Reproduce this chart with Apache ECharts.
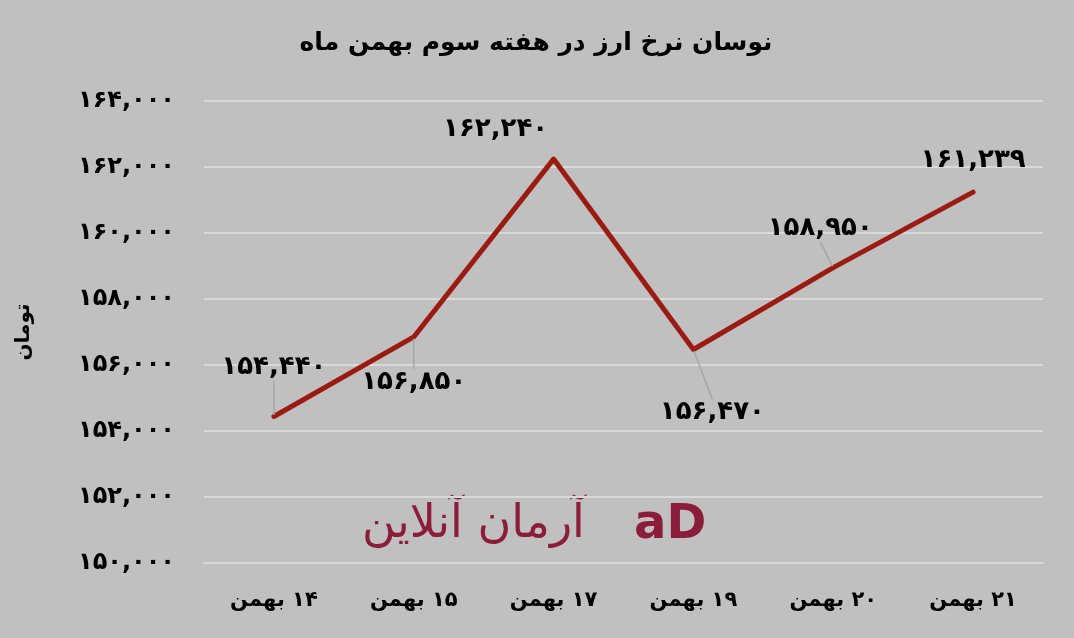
<!DOCTYPE html>
<html>
<head>
<meta charset="utf-8">
<script src="https://cdn.jsdelivr.net/npm/echarts@6/dist/echarts.min.js"></script>
<style>
html,body{margin:0;padding:0;background:#c0c0c0;}
#chart{width:1074px;height:638px;direction:rtl;}
</style>
</head>
<body>
<div id="chart"></div>
<script>
// ---- data ----
const titleText = 'نوسان نرخ ارز در هفته سوم بهمن ماه';
const yAxisName = 'تومان';
const categories = ['۱۴ بهمن', '۱۵ بهمن', '۱۷ بهمن', '۱۹ بهمن', '۲۰ بهمن', '۲۱ بهمن'];
const rates = [154440, 156850, 162240, 156470, 158950, 161239];
const yMin = 150000, yMax = 164000, yStep = 2000;
const watermarkText = 'آرمان آنلاین';

// ---- label placement (style, kept separate from data) ----
const labelShift = [[0, -49], [0, 45], [-58, -30], [19, 63], [-13, -39], [0, -32]];
const showLeader = [true, true, false, true, true, false];

const faDigits = '۰۱۲۳۴۵۶۷۸۹';
function toFa(s) { return String(s).replace(/[0-9]/g, d => faDigits[+d]); }
function fmt(v) { return toFa(Number(v).toLocaleString('en-US')); }

const FONT = '"DejaVu Sans", sans-serif';
const chart = echarts.init(document.getElementById('chart'));

const seriesData = rates.map((v, i) => ({
  value: v,
  labelLine: { show: showLeader[i] }
}));

chart.setOption({
  backgroundColor: '#c0c0c0',
  animation: false,
  title: {
    text: titleText,
    left: 531, top: 26, textAlign: 'center',
    textStyle: { fontFamily: FONT, fontWeight: 'bold', fontSize: 25, color: '#000' }
  },
  grid: { left: 204, right: 31, top: 101, bottom: 75 },
  xAxis: {
    type: 'category',
    data: categories,
    boundaryGap: true,
    axisLine: { lineStyle: { color: '#d9d9d9', width: 2 } },
    axisTick: { show: false },
    axisLabel: { fontFamily: FONT, fontWeight: 'bold', fontSize: 21, color: '#000', margin: 27 }
  },
  yAxis: {
    type: 'value',
    min: yMin, max: yMax, interval: yStep,
    name: yAxisName,
    nameLocation: 'middle',
    nameRotate: 90,
    nameGap: 170,
    nameTextStyle: { fontFamily: FONT, fontWeight: 'bold', fontSize: 20, color: '#000' },
    axisLine: { show: false },
    axisTick: { show: false },
    splitLine: { lineStyle: { color: '#d9d9d9', width: 2 } },
    axisLabel: { fontFamily: FONT, fontWeight: 'bold', fontSize: 24, color: '#000', margin: 29, formatter: v => fmt(v) }
  },
  graphic: [
    {
      type: 'text', left: 362, top: 502,
      style: { text: watermarkText, fontFamily: FONT, fontSize: 46, fill: '#8c1d3a' }
    },
    {
      type: 'text', left: 634, top: 502,
      style: { text: 'aD', fontFamily: '"DejaVu Sans", sans-serif', fontWeight: 'bold', fontSize: 48, fill: '#8c1d3a' }
    }
  ],
  series: [{
    type: 'line',
    data: seriesData,
    symbol: 'circle',
    symbolSize: 3,
    lineStyle: { color: '#9b1b12', width: 5, cap: 'round', join: 'round' },
    itemStyle: { color: '#9b1b12' },
    label: {
      show: true,
      position: 'inside',
      fontFamily: FONT, fontWeight: 'bold', fontSize: 26, color: '#000',
      formatter: p => fmt(p.value)
    },
    labelLine: { show: true, lineStyle: { color: '#a6a6a6', width: 1.5 } },
    labelLayout: p => ({ dx: labelShift[p.dataIndex][0], dy: labelShift[p.dataIndex][1] })
  }]
});
</script>
</body>
</html>
